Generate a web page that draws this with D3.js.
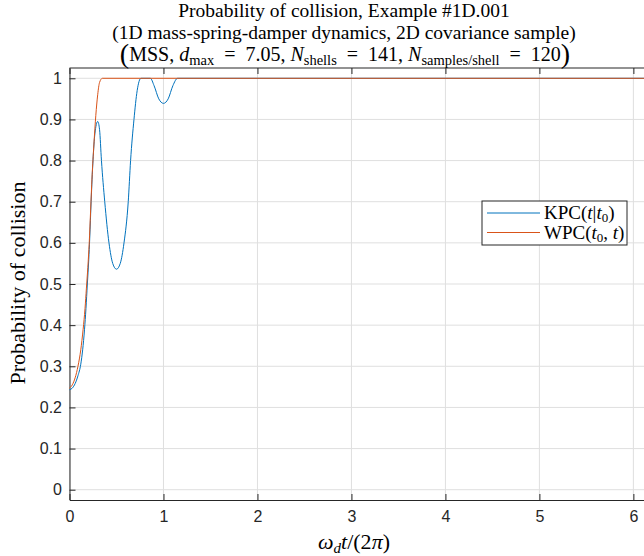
<!DOCTYPE html>
<html>
<head>
<meta charset="utf-8">
<script src="https://cdn.jsdelivr.net/npm/d3@7"></script>
<style>
    body { margin: 0; background: #fff; }
    svg { display: block; }
    .tick text { font-family: "Liberation Sans", Arial, sans-serif; font-size: 16px; fill: #262626; }
    .serif { font-family: "Liberation Serif", "Times New Roman", serif; fill: #000; }
</style>
</head>
<body>
<svg width="644" height="556"></svg>
<script>
// values
var kpcX = [0, 0.03, 0.06, 0.09, 0.12, 0.14, 0.16, 0.175, 0.19, 0.205, 0.215, 0.23, 0.25, 0.27, 0.30, 0.32, 0.34, 0.375, 0.42, 0.46, 0.50, 0.54, 0.58, 0.625, 0.65, 0.686, 0.72, 0.76, 0.86, 0.90, 0.95, 1.0, 1.05, 1.10, 1.15, 6.3];
var kpcY = [0.243, 0.247, 0.258, 0.277, 0.305, 0.34, 0.39, 0.44, 0.50, 0.56, 0.61, 0.70, 0.80, 0.865, 0.895, 0.875, 0.80, 0.70, 0.60, 0.55, 0.536, 0.55, 0.60, 0.70, 0.80, 0.90, 0.97, 1.0, 1.0, 0.982, 0.95, 0.939, 0.95, 0.982, 1.0, 1.0];
var wpcX = [0, 0.03, 0.06, 0.09, 0.12, 0.145, 0.165, 0.18, 0.195, 0.21, 0.225, 0.24, 0.26, 0.28, 0.30, 0.32, 0.35, 6.3];
var wpcY = [0.247, 0.255, 0.272, 0.30, 0.34, 0.39, 0.44, 0.49, 0.54, 0.60, 0.68, 0.76, 0.84, 0.91, 0.96, 0.99, 1.0, 1.0];
var xTicks = [0, 1, 2, 3, 4, 5, 6];
var yTicks = [0, 0.1, 0.2, 0.3, 0.4, 0.5, 0.6, 0.7, 0.8, 0.9, 1];

var plotLeft = 69.5, plotRight = 660, plotTop = 68, plotBottom = 500;

const svg = d3.select('svg');

const xScale = d3.scaleLinear().domain([0, 2 * Math.PI]).range([plotLeft, plotRight]);
const yScale = d3.scaleLinear().domain([-0.025, 1.025]).range([plotBottom, plotTop]);

// grid
svg.append('g')
    .selectAll('line')
    .data(xTicks)
    .enter()
    .append('line')
    .attr('x1', (d) => xScale(d)).attr('x2', (d) => xScale(d))
    .attr('y1', plotTop).attr('y2', plotBottom)
    .attr('stroke', '#dfdfdf');
svg.append('g')
    .selectAll('line')
    .data(yTicks)
    .enter()
    .append('line')
    .attr('x1', plotLeft).attr('x2', plotRight)
    .attr('y1', (d) => yScale(d)).attr('y2', (d) => yScale(d))
    .attr('stroke', '#dfdfdf');

// axes with inward ticks
const xAxis = svg.append('g')
    .attr('transform', `translate(0, ${plotBottom})`)
    .call(d3.axisBottom(xScale).tickValues(xTicks).tickSizeInner(-6).tickSizeOuter(0).tickPadding(11).tickFormat(d3.format('~g')));
const yAxis = svg.append('g')
    .attr('transform', `translate(${plotLeft}, 0)`)
    .call(d3.axisLeft(yScale).tickValues(yTicks).tickSizeInner(-6).tickSizeOuter(0).tickPadding(7.5).tickFormat(d3.format('~g')));
[xAxis, yAxis].forEach(function (a) {
    a.select('.domain').attr('stroke', '#262626');
    a.selectAll('.tick line').attr('stroke', '#262626');
});

// box top
svg.append('line').attr('x1', plotLeft).attr('x2', plotRight).attr('y1', plotTop).attr('y2', plotTop).attr('stroke', '#262626');
svg.append('g').attr('transform', `translate(0, ${plotTop})`)
    .call(d3.axisTop(xScale).tickValues(xTicks).tickSizeInner(-6).tickSizeOuter(0).tickFormat(''))
    .call((g) => { g.select('.domain').remove(); g.selectAll('line').attr('stroke', '#262626'); });

// lines
const line = d3.line().x((d) => xScale(d[0])).y((d) => yScale(d[1])).curve(d3.curveMonotoneX);
svg.append('path')
    .datum(kpcX.map((x, i) => [x, kpcY[i]]))
    .attr('d', line).attr('fill', 'none').attr('stroke', '#0072BD').attr('stroke-width', 1);
svg.append('path')
    .datum(wpcX.map((x, i) => [x, wpcY[i]]))
    .attr('d', line).attr('fill', 'none').attr('stroke', '#D95319').attr('stroke-width', 1);

// legend
const lg = svg.append('g');
lg.append('rect').attr('x', 482).attr('y', 201).attr('width', 145).attr('height', 44)
    .attr('fill', '#fff').attr('stroke', '#262626');
lg.append('line').attr('x1', 487).attr('x2', 540).attr('y1', 213).attr('y2', 213).attr('stroke', '#0072BD');
lg.append('line').attr('x1', 487).attr('x2', 540).attr('y1', 232.5).attr('y2', 232.5).attr('stroke', '#D95319');
var t1 = lg.append('text').attr('class', 'serif').attr('x', 544).attr('y', 219).attr('font-size', 19);
t1.append('tspan').text('KPC(');
t1.append('tspan').attr('font-style', 'italic').text('t');
t1.append('tspan').text('|');
t1.append('tspan').attr('font-style', 'italic').text('t');
t1.append('tspan').attr('font-size', 13).attr('dy', 3).text('0');
t1.append('tspan').attr('dy', -3).text(')');
var t2 = lg.append('text').attr('class', 'serif').attr('x', 544).attr('y', 239).attr('font-size', 19);
t2.append('tspan').text('WPC(');
t2.append('tspan').attr('font-style', 'italic').text('t');
t2.append('tspan').attr('font-size', 13).attr('dy', 3).text('0');
t2.append('tspan').attr('dy', -3).text(', ');
t2.append('tspan').attr('font-style', 'italic').text('t');
t2.append('tspan').text(')');

// titles
svg.append('text').attr('class', 'serif').attr('x', 344).attr('y', 17).attr('text-anchor', 'middle')
    .attr('font-size', 19.5).text('Probability of collision, Example #1D.001');
svg.append('text').attr('class', 'serif').attr('x', 344).attr('y', 39).attr('text-anchor', 'middle')
    .attr('font-size', 19.5).text('(1D mass-spring-damper dynamics, 2D covariance sample)');
var eq = '\u2002=\u2002';
var t3 = svg.append('text').attr('class', 'serif').attr('x', 345).attr('y', 61).attr('text-anchor', 'middle')
    .attr('font-size', 20);
t3.append('tspan').attr('font-size', 28).attr('dy', 1.5).text('(');
t3.append('tspan').attr('dy', -1.5).text('MSS, ');
t3.append('tspan').attr('font-style', 'italic').text('d');
t3.append('tspan').attr('font-size', 14.5).attr('dy', 4).text('max');
t3.append('tspan').attr('dy', -4).text(eq + '7.05, ');
t3.append('tspan').attr('font-style', 'italic').text('N');
t3.append('tspan').attr('font-size', 14.5).attr('dy', 4).text('shells');
t3.append('tspan').attr('dy', -4).text(eq + '141, ');
t3.append('tspan').attr('font-style', 'italic').text('N');
t3.append('tspan').attr('font-size', 14.5).attr('dy', 4).text('samples/shell');
t3.append('tspan').attr('dy', -4).text(eq + '120');
t3.append('tspan').attr('font-size', 28).attr('dy', 1.5).text(')');

// axis labels
svg.append('text').attr('class', 'serif')
    .attr('transform', 'translate(25, 283) rotate(-90)')
    .attr('text-anchor', 'middle').attr('font-size', 22).text('Probability of collision');
var xl = svg.append('text').attr('class', 'serif').attr('x', 354).attr('y', 549)
    .attr('text-anchor', 'middle').attr('font-size', 22);
xl.append('tspan').attr('font-style', 'italic').text('ω');
xl.append('tspan').attr('font-size', 15).attr('font-style', 'italic').attr('dy', 4).text('d');
xl.append('tspan').attr('font-style', 'italic').attr('dy', -4).text('t');
xl.append('tspan').text('/(2');
xl.append('tspan').attr('font-style', 'italic').text('π');
xl.append('tspan').text(')');
</script>
</body>
</html>
